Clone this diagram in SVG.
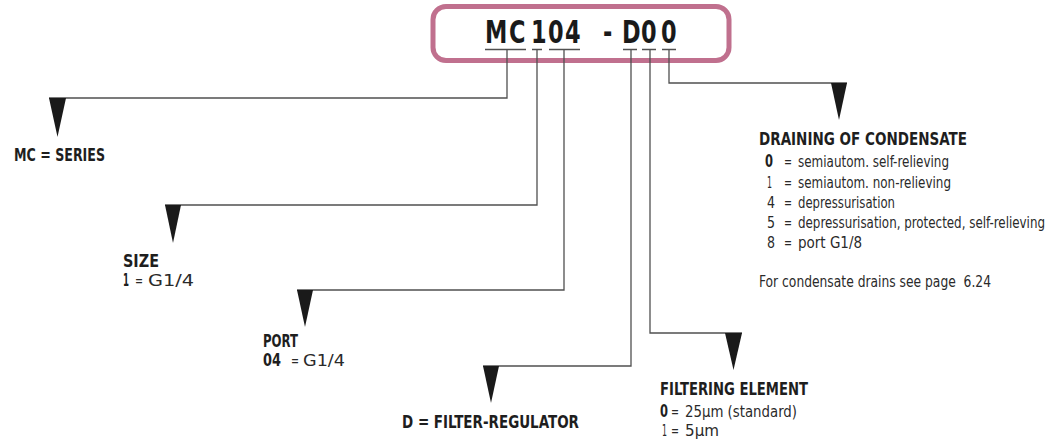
<svg xmlns="http://www.w3.org/2000/svg" width="1051" height="441" viewBox="0 0 1051 441">
<style>
.ln{fill:none;stroke:#505050;stroke-width:1.3}
.ul{fill:none;stroke:#505050;stroke-width:1.3}
.ah{fill:#1a1a1a}
.b{font-family:"Liberation Sans Narrow","DejaVu Sans Condensed","Liberation Sans",sans-serif;font-weight:bold;font-size:17px;fill:#1e1e1e}
.t{font-family:"Liberation Sans Narrow","DejaVu Sans Condensed","Liberation Sans",sans-serif;font-weight:normal;font-size:16px;fill:#2a2a2a}
.hd{font-family:"Liberation Sans Narrow","DejaVu Sans Condensed","Liberation Sans",sans-serif;font-weight:bold;font-size:32px;fill:#1a1a1a}
</style>
<rect width="1051" height="441" fill="#ffffff"/>
<g id="code">
<rect x="433" y="6.5" width="296" height="54" rx="13" ry="13" fill="none" stroke="#c0708e" stroke-width="5"/>
<text class="hd" transform="scale(0.78,1)" x="621.8 652.6 680.8 702.6 724.4 746 773.1 785 797.4 821.8 847.4" y="43">MC104 - D00</text>
<path class="ul" d="M485,49.5H526M532,49.5H542M549,49.5H580M623,49.5H637M642,49.5H656M662,49.5H676"/>
</g>
<g id="connectors">
<path class="ln" d="M507,49.5V98H49"/>
<polygon class="ah" points="49,98 66,98 57.5,137"/>
<path class="ln" d="M537,49.5V205H165"/>
<polygon class="ah" points="165,205 181,205 173,243"/>
<path class="ln" d="M564,49.5V290H297"/>
<polygon class="ah" points="297,290 313,290 305,327"/>
<path class="ln" d="M631,49.5V366H483"/>
<polygon class="ah" points="483,366 499,366 491,403"/>
<path class="ln" d="M650,49.5V333H742"/>
<polygon class="ah" points="725,333 742,333 733.5,370"/>
<path class="ln" d="M669,49.5V83H847"/>
<polygon class="ah" points="831,83 847,83 839,120"/>
</g>
<g id="series">
<text class="b" x="14" y="161" textLength="91" lengthAdjust="spacingAndGlyphs">MC = SERIES</text>
</g>
<g id="size">
<text class="b" x="123" y="267" textLength="36" lengthAdjust="spacingAndGlyphs">SIZE</text>
<text class="b" x="123" y="286" textLength="6" lengthAdjust="spacingAndGlyphs">1</text>
<text class="t" x="135" y="286" textLength="8" lengthAdjust="spacingAndGlyphs">=</text>
<text class="t" x="148" y="286" textLength="46" lengthAdjust="spacingAndGlyphs">G1/4</text>
</g>
<g id="port">
<text class="b" x="263" y="347" textLength="35" lengthAdjust="spacingAndGlyphs">PORT</text>
<text class="b" x="263" y="366" textLength="18" lengthAdjust="spacingAndGlyphs">04</text>
<text class="t" x="291" y="366" textLength="8" lengthAdjust="spacingAndGlyphs">=</text>
<text class="t" x="303" y="366" textLength="42" lengthAdjust="spacingAndGlyphs">G1/4</text>
</g>
<g id="type">
<text class="b" x="402" y="428" textLength="177" lengthAdjust="spacingAndGlyphs">D = FILTER-REGULATOR</text>
</g>
<g id="filter">
<text class="b" x="660" y="395" textLength="148" lengthAdjust="spacingAndGlyphs">FILTERING ELEMENT</text>
<text class="b" x="660" y="417" textLength="8" lengthAdjust="spacingAndGlyphs">0</text>
<text class="t" x="671" y="417" textLength="8" lengthAdjust="spacingAndGlyphs">=</text>
<text class="t" x="685" y="417" textLength="112" lengthAdjust="spacingAndGlyphs">25µm (standard)</text>
<text class="t" x="662" y="436" textLength="5" lengthAdjust="spacingAndGlyphs">1</text>
<text class="t" x="671" y="436" textLength="8" lengthAdjust="spacingAndGlyphs">=</text>
<text class="t" x="685" y="436" textLength="34" lengthAdjust="spacingAndGlyphs">5µm</text>
</g>
<g id="drain">
<text class="b" x="759" y="145" textLength="208" lengthAdjust="spacingAndGlyphs">DRAINING OF CONDENSATE</text>
<text class="b" x="765" y="167" textLength="8" lengthAdjust="spacingAndGlyphs">0</text>
<text class="t" x="784" y="167" textLength="8" lengthAdjust="spacingAndGlyphs">=</text>
<text class="t" x="798" y="167" textLength="151" lengthAdjust="spacingAndGlyphs">semiautom. self-relieving</text>
<text class="t" x="767" y="188" textLength="5" lengthAdjust="spacingAndGlyphs">1</text>
<text class="t" x="784" y="188" textLength="8" lengthAdjust="spacingAndGlyphs">=</text>
<text class="t" x="798" y="188" textLength="153" lengthAdjust="spacingAndGlyphs">semiautom. non-relieving</text>
<text class="t" x="767" y="208" textLength="8" lengthAdjust="spacingAndGlyphs">4</text>
<text class="t" x="784" y="208" textLength="8" lengthAdjust="spacingAndGlyphs">=</text>
<text class="t" x="798" y="208" textLength="97" lengthAdjust="spacingAndGlyphs">depressurisation</text>
<text class="t" x="767" y="228" textLength="8" lengthAdjust="spacingAndGlyphs">5</text>
<text class="t" x="784" y="228" textLength="8" lengthAdjust="spacingAndGlyphs">=</text>
<text class="t" x="798" y="228" textLength="247" lengthAdjust="spacingAndGlyphs">depressurisation, protected, self-relieving</text>
<text class="t" x="767" y="248" textLength="8" lengthAdjust="spacingAndGlyphs">8</text>
<text class="t" x="784" y="248" textLength="8" lengthAdjust="spacingAndGlyphs">=</text>
<text class="t" x="798" y="248" textLength="64" lengthAdjust="spacingAndGlyphs">port G1/8</text>
<text class="t" x="759" y="287" textLength="232" lengthAdjust="spacingAndGlyphs" xml:space="preserve">For condensate drains see page  6.24</text>
</g>
</svg>
